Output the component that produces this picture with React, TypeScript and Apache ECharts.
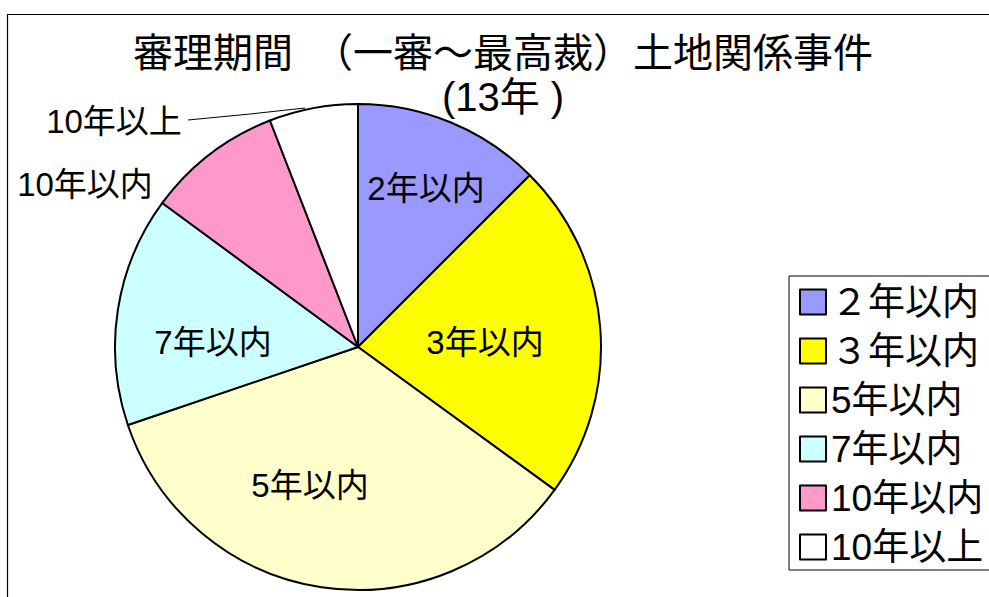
import React, { useEffect, useRef } from "react";
import * as echarts from "echarts";

const titleLines = ["審理期間　（一審～最高裁）土地関係事件", "(13年 )"];
const categories = ["2年以内", "3年以内", "5年以内", "7年以内", "10年以内", "10年以上"];
const legendLabels = ["２年以内", "３年以内", "5年以内", "7年以内", "10年以内", "10年以上"];
const shares = [12.5, 22.5, 34.8, 15.3, 9.0, 5.9];
const colors = ["#9999FF", "#FFFF00", "#FFFFCC", "#CCFFFF", "#FF99CC", "#FFFFFF"];

// label anchor points (page px) as in the reference
const labelSpots: [number, number][] = [
  [426, 188],
  [485, 342],
  [310, 485],
  [213, 342],
  [85, 184],
  [114, 121],
];

const FONT = "'Liberation Sans', Arial, 'Noto Sans CJK JP', sans-serif";

export default function App() {
  const ref = useRef<HTMLDivElement>(null);
  useEffect(() => {
    if (!ref.current) return;
    const chart = echarts.init(ref.current, undefined, { renderer: "svg" });
    const data = categories.map((name, i) => ({
      name,
      value: shares[i],
      itemStyle: { color: colors[i] },
      label: { position: i >= 4 ? "outside" : "inside" },
      labelLine: i === 5
        ? { show: true, lineStyle: { color: "#000", width: 1 } }
        : { show: false },
    }));
    chart.setOption({
      animation: false,
      backgroundColor: "#fff",
      title: {
        text: titleLines.join("\n"),
        left: 503,
        top: 31,
        textAlign: "center",
        padding: 0,
        textStyle: {
          fontFamily: FONT,
          fontSize: 40,
          fontWeight: "normal",
          color: "#000",
          lineHeight: 44,
        },
      },
      legend: {
        orient: "vertical",
        left: 789,
        top: 276,
        padding: [6, 60, 3, 10],
        borderColor: "#000",
        borderWidth: 1,
        itemWidth: 26,
        itemHeight: 25,
        itemGap: 9,
        icon: "rect",
        data: categories,
        formatter: (name: string) => legendLabels[categories.indexOf(name)],
        textStyle: {
          fontFamily: FONT,
          fontSize: 37,
          lineHeight: 40,
          color: "#000",
        },
      },
      graphic: [
        {
          type: "rect",
          shape: { x: 7.5, y: 14.5, width: 1200, height: 800 },
          style: { fill: "none", stroke: "#000", lineWidth: 1.2 },
          silent: true,
          z: -10,
        },
      ],
      series: [
        {
          type: "pie",
          center: [358, 347],
          radius: 243,
          startAngle: 90,
          clockwise: true,
          avoidLabelOverlap: false,
          itemStyle: { borderColor: "#000", borderWidth: 2 },
          label: {
            show: true,
            fontFamily: FONT,
            fontSize: 33,
            color: "#000",
            formatter: "{b}",
          },
          emphasis: { disabled: true },
          labelLayout: (p: any) => {
            const i = p.dataIndex;
            const [x, y] = labelSpots[i];
            const res: any = { x, y, align: "center", verticalAlign: "middle" };
            if (i === 5) {
              res.labelLinePoints = [
                [188, 120],
                [250, 114],
                [305, 108],
              ];
            }
            return res;
          },
          data,
        },
      ],
    });
    return () => chart.dispose();
  }, []);
  return (
    <div
      ref={ref}
      style={{ position: "absolute", left: 0, top: 0, width: 989, height: 597 }}
    />
  );
}
